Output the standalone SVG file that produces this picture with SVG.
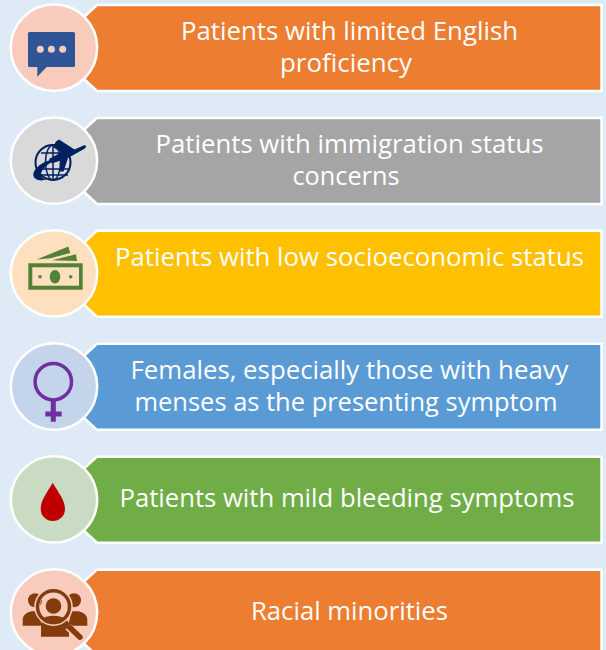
<svg xmlns="http://www.w3.org/2000/svg" width="606" height="650" viewBox="0 0 606 650">
<style>
.bar{stroke:#fff;stroke-width:2.5}
.dot{stroke:#fff;stroke-width:2.5}
text{font-family:"Open Sans","Noto Sans","Liberation Sans",sans-serif;font-size:25px;fill:#fff;text-anchor:middle}
</style>
<defs>
<polygon id="b" class="bar" points="84,17 97,5 601.500,5 601.500,91 97,91 84,79"/>
</defs>
<rect width="606" height="650" fill="#deebf7"/>
<g id="connectors"/>
<g id="node-english">
<use href="#b" fill="#ed7d31"/>
<circle class="dot" cx="54" cy="47.700" r="43.200" fill="#f8cbbd"/>
<path d="M29.500 32h44a1.500 1.500 0 0 1 1.500 1.500v32a1.500 1.500 0 0 1-1.500 1.500H46.700l-9.400 9.700V67h-7.800a1.500 1.500 0 0 1-1.500-1.500v-32a1.500 1.500 0 0 1 1.500-1.500z" fill="#2f5597"/>
<g fill="#f8cbbd"><circle cx="40.300" cy="49.300" r="3.500"/><circle cx="51.400" cy="49.300" r="3.500"/><circle cx="62.700" cy="49.300" r="3.500"/></g>
<text x="349.500" y="40" textLength="337" lengthAdjust="spacingAndGlyphs">Patients with limited English</text>
<text x="346" y="72" textLength="132" lengthAdjust="spacingAndGlyphs">proficiency</text>
</g>
<g id="node-immigration" transform="translate(0 112.900)">
<use href="#b" fill="#a5a5a5"/>
<circle class="dot" cx="54" cy="47.700" r="43.200" fill="#d9d9d9"/>
<g fill="none" stroke="#002060">
<circle cx="53" cy="49.500" r="17.500" stroke-width="2"/>
<ellipse cx="53" cy="49.500" rx="7.500" ry="17.500" stroke-width="1.500"/>
<path d="M36 56h34M53 32v35M38 62h30M41 40h24" stroke-width="1.500"/>
</g>
<path d="M58 46C48 46 36 52 33.500 60c-1 4 1.500 7 8 7.500 2 0 4-.3 5.500-.8C42 66 40 63 41.500 59 44 53.500 51 49 58 46z" fill="#002060"/>
<path d="M56 28.500l3-2 15.500 10.200 9-4.200q2.500-.5 2.500 1c0 1-.8 1.700-2 2.500L68 45l-4.500 13.500h-3.500l.5-11-8.500 3-3-4.500 12-6.500-8-5.500z" fill="#002060"/>
<text x="349.500" y="40" textLength="388" lengthAdjust="spacingAndGlyphs">Patients with immigration status</text>
<text x="346" y="72" textLength="107" lengthAdjust="spacingAndGlyphs">concerns</text>
</g>
<g id="node-socioeconomic" transform="translate(0 225.700)">
<use href="#b" fill="#ffc000"/>
<circle class="dot" cx="54" cy="47.700" r="43.200" fill="#fee0be"/>
<path d="M28.300 37.600h54.400V64H28.300z" fill="#548235"/>
<rect x="32.300" y="41.600" width="46.700" height="18.400" fill="#fee0be"/>
<ellipse cx="55" cy="51" rx="5.300" ry="6.700" fill="#548235"/>
<circle cx="40" cy="51" r="1.800" fill="#548235"/><circle cx="70.700" cy="51" r="1.800" fill="#548235"/>
<path d="M36.700 33.800L68.300 20.800l2 6.500-20 5.200zM52 34.500l24-5.900 1 6.700z" fill="#548235"/>
<text x="349.500" y="40" textLength="469" lengthAdjust="spacingAndGlyphs">Patients with low socioeconomic status</text>
</g>
<g id="node-females" transform="translate(0 338.800)">
<use href="#b" fill="#5b9bd5"/>
<circle class="dot" cx="54" cy="47.700" r="43.200" fill="#c4d4ea"/>
<circle cx="53.300" cy="42.900" r="18.200" fill="none" stroke="#7030a0" stroke-width="3.500"/>
<path d="M53.300 60v23M45.300 75.200h16.400" fill="none" stroke="#7030a0" stroke-width="5"/>
<text x="349.500" y="40" textLength="438" lengthAdjust="spacingAndGlyphs">Females, especially those with heavy</text>
<text x="346" y="72" textLength="423" lengthAdjust="spacingAndGlyphs">menses as the presenting symptom</text>
</g>
<g id="node-bleeding" transform="translate(0 451.700)">
<use href="#b" fill="#70ad47"/>
<circle class="dot" cx="54" cy="47.700" r="43.200" fill="#c9dbc2"/>
<path d="M52.700 31C47 41 40.700 48.500 40.700 57.200a12.150 12.150 0 0 0 24.300 0C65 48.500 58.500 41 52.700 31z" fill="#c00000"/>
<text x="347" y="55.800" textLength="455" lengthAdjust="spacingAndGlyphs">Patients with mild bleeding symptoms</text>
</g>
<g id="node-minorities" transform="translate(0 564.700)">
<use href="#b" fill="#ed7d31"/>
<circle class="dot" cx="54" cy="47.700" r="43.200" fill="#f8cbbd"/>
<g fill="#843c0c">
<circle cx="35" cy="35.500" r="7"/><circle cx="74" cy="35.500" r="7"/>
<path d="M22.700 61V54q1-6 9-7.500h7l3 14.500zM87.300 61V54q-1-6-9-7.500h-7l-3 14.500z"/>
<path d="M41 72V59q2-7 13-7 13 0 15 7v13z"/>
</g>
<circle cx="53.500" cy="42" r="16.500" fill="none" stroke="#f8cbbd" stroke-width="5.500"/>
<circle cx="53.500" cy="42" r="16" fill="none" stroke="#843c0c" stroke-width="3.500"/>
<circle cx="53.500" cy="41.300" r="7.800" fill="#843c0c"/>
<path d="M42 54.500q3-3.500 11.500-3.500 8.500 0 11.500 3.500-4 3.500-11.500 3.500-7.500 0-11.500-3.500z" fill="#843c0c"/>
<path d="M68 62L80 73" fill="none" stroke="#f8cbbd" stroke-width="7.500"/>
<path d="M68 61L80 72.500" fill="none" stroke="#843c0c" stroke-width="5.500" stroke-linecap="round"/>
<text x="349.500" y="55" textLength="197" lengthAdjust="spacingAndGlyphs">Racial minorities</text>
</g>
</svg>
